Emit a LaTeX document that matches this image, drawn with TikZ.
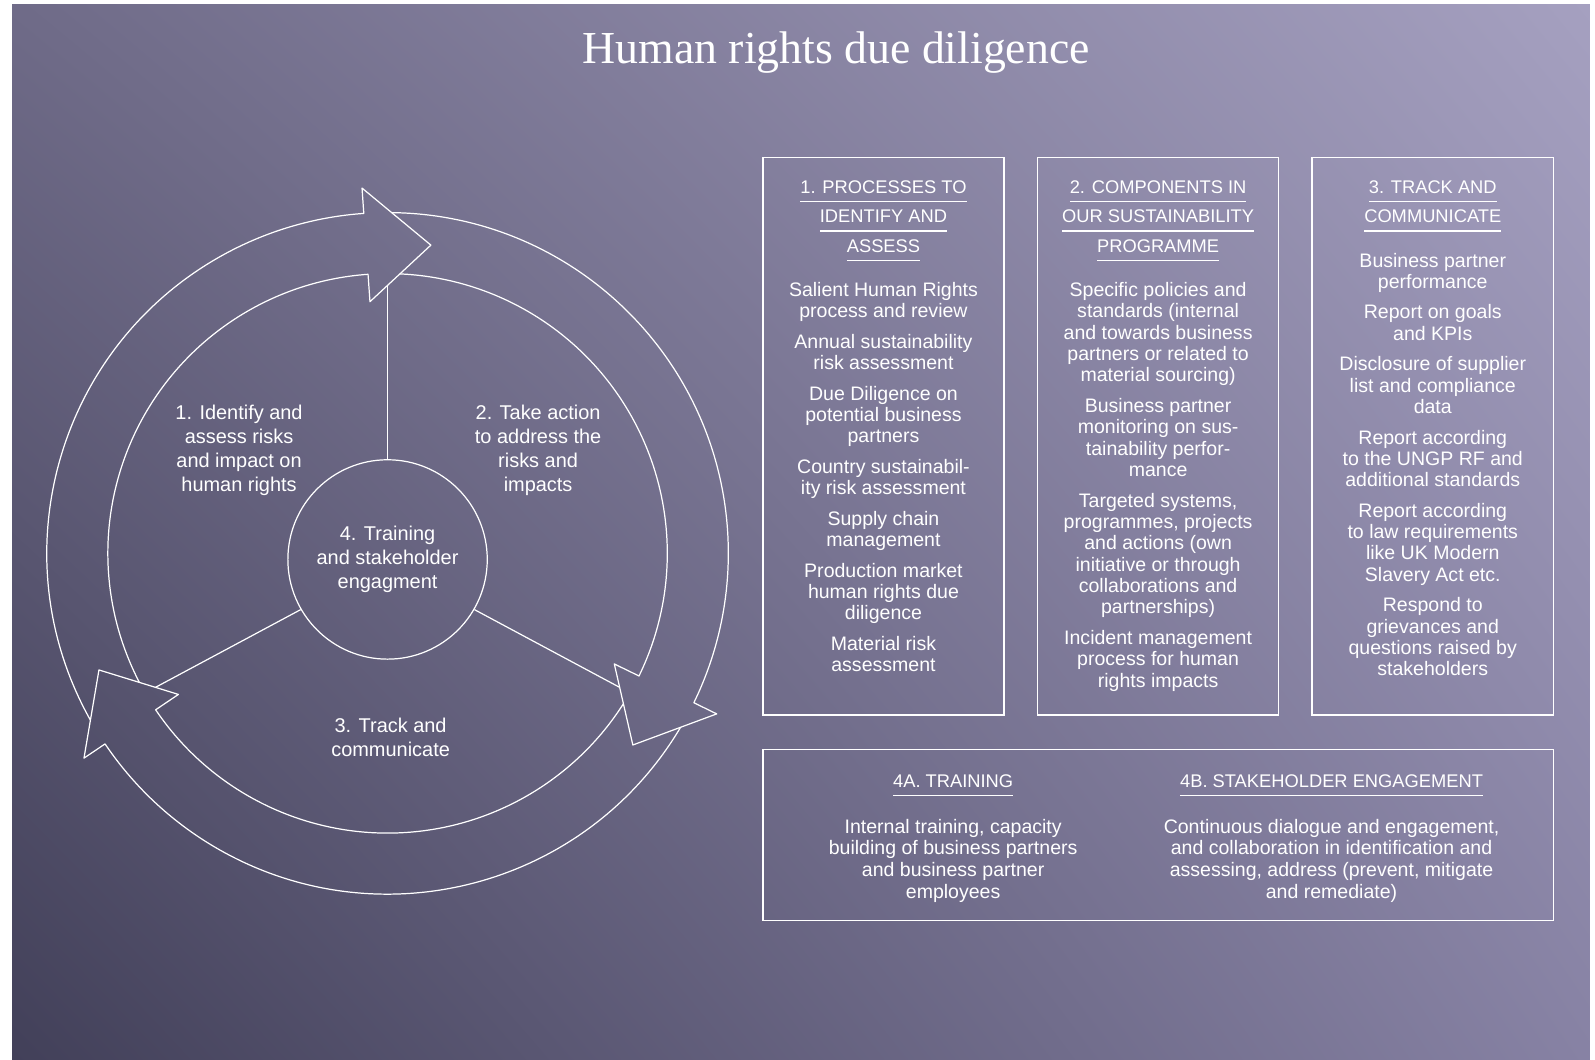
\documentclass[tikz,border=0pt]{standalone}
\usepackage{fontspec}
\setmainfont{Liberation Sans}
\newfontfamily\titlefont{Liberation Serif}
\usepackage{tikz}
\usetikzlibrary{positioning, shadings}
\usepackage{xcolor}
\definecolor{bgtl}{HTML}{6F6B88}
\definecolor{bgtr}{HTML}{A5A0C0}
\definecolor{bgbl}{HTML}{424059}
\definecolor{bgbr}{HTML}{8782A4}
\newcommand{\hdline}[1]{\leavevmode\vtop{\hbox{#1}\kern3.5pt\hrule height 0.7pt}}

\begin{document}
\begin{tikzpicture}[
x=0.5pt, y=0.5pt,
box/.style={draw=white,
line width=0.75pt,
rectangle,
minimum width=118.5pt,
minimum height=274pt},
wide/.style={box,
minimum width=388.5pt,
minimum height=84pt},
head/.style={text=white, align=center, inner sep=0pt, font=\fontsize{9}{14.5}\selectfont},
body/.style={text=white, align=center, inner sep=0pt, font=\fontsize{9.6}{10.5}\selectfont},
lab/.style={text=white, align=center, inner sep=0pt, font=\fontsize{9.8}{11.85}\selectfont},
ring/.style={draw=white, line width=0.6pt, line join=round}
]

\useasboundingbox (0,0) rectangle (1568,1042);
\shade[upper left=bgtl, upper right=bgtr, lower left=bgbl, lower right=bgbr] (12,0) rectangle (1563,1038);

\node[text=white, font=\titlefont\fontsize{22.5}{27}\selectfont, anchor=base] (title) at (822,980) {Human rights due diligence};

\coordinate (ctr) at (381,498);
\foreach \rot in {0,120,240}
\draw[ring, shift={(ctr)}, rotate=\rot] (209.3:335) arc[start angle=209.3, end angle=94, radius=335] -- (94:360) -- (82:306) -- (94:248) -- (94:275) arc[start angle=94, end angle=207.5, radius=275];

\node[lab, circle, draw=white, line width=0.6pt, minimum size=98pt] (hub) at (381,492) {4. Training\\and stakeholder\\engagment};
\path[shift={(ctr)}] (90:263.5) coordinate (sp1) (210:263.5) coordinate (sp2) (330:263.5) coordinate (sp3);
\draw[ring] (hub.90) -- (sp1);
\draw[ring] (hub.210) -- (sp2);
\draw[ring] (hub.330) -- (sp3);

\node[lab] (lab1) at (235,599) {1. Identify and\\assess risks\\and impact on\\human rights};
\node[lab] (lab2) at (529,599) {2. Take action\\to address the\\risks and\\impacts};
\node[lab] (lab3) at (384,317) {3. Track and\\communicate};

\node[box] (col1) at (868.5,613) {};
\node[box] (col2) at (1138.5,613) {};
\node[box] (col3) at (1408.5,613) {};
\node[wide] (col4) at (1138.5,221) {};

\node[head, below=11.5pt of col1.north] (head1) {\hdline{1. PROCESSES TO}\\\hdline{IDENTIFY AND}\\\hdline{ASSESS}};
\node[head, below=11.5pt of col2.north] (head2) {\hdline{2. COMPONENTS IN}\\\hdline{OUR SUSTAINABILITY}\\\hdline{PROGRAMME}};
\node[head, below=11.5pt of col3.north] (head3) {\hdline{3. TRACK AND}\\\hdline{COMMUNICATE}};

\node[body, below=10pt of head1] (body1) {Salient Human Rights\\process and review\\[4.5pt]
Annual sustainability\\risk assessment\\[4.5pt]
Due Diligence on\\potential business\\partners\\[4.5pt]
Country sustainabil-\\ity risk assessment\\[4.5pt]
Supply chain\\management\\[4.5pt]
Production market\\human rights due\\diligence\\[4.5pt]
Material risk\\assessment};
\node[body, below=10pt of head2] (body2) {Specific policies and\\standards (internal\\and towards business\\partners or related to\\material sourcing)\\[4.5pt]
Business partner\\monitoring on sus-\\tainability perfor-\\mance\\[4.5pt]
Targeted systems,\\programmes, projects\\and actions (own\\initiative or through\\collaborations and\\partnerships)\\[4.5pt]
Incident management\\process for human\\rights impacts};
\node[body, below=10pt of head3] (body3) {Business partner\\performance\\[4.5pt]
Report on goals\\and KPIs\\[4.5pt]
Disclosure of supplier\\list and compliance\\data\\[4.5pt]
Report according\\to the UNGP RF and\\additional standards\\[4.5pt]
Report according\\to law requirements\\like UK Modern\\Slavery Act etc.\\[4.5pt]
Respond to\\grievances and\\questions raised by\\stakeholders};

\node[head, anchor=north] (head4a) at (937,281) {\hdline{4A. TRAINING}};
\node[head, anchor=north] (head4b) at (1309,281) {\hdline{4B. STAKEHOLDER ENGAGEMENT}};
\node[body, below=11pt of head4a, font=\fontsize{9.6}{10.6}\selectfont] (body4a) {Internal training, capacity\\building of business partners\\and business partner\\employees};
\node[body, below=11pt of head4b, font=\fontsize{9.6}{10.6}\selectfont] (body4b) {Continuous dialogue and engagement,\\and collaboration in identification and\\assessing, address (prevent, mitigate\\and remediate)};

\end{tikzpicture}
\end{document}
